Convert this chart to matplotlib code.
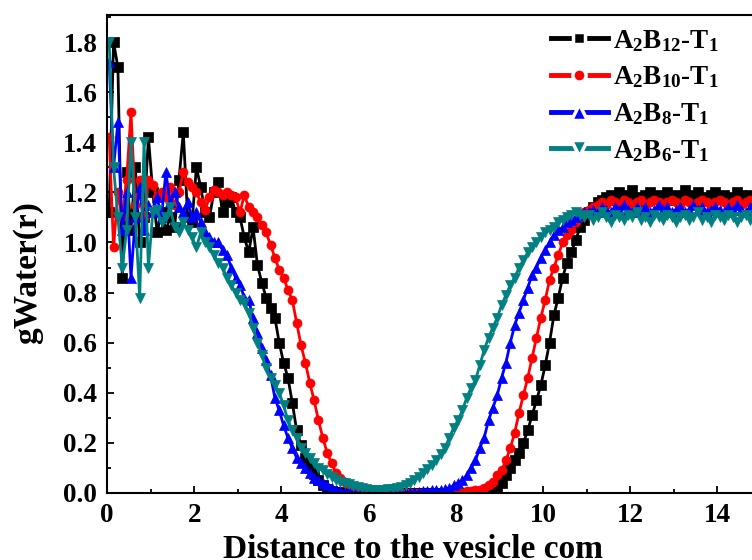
import numpy as np
import matplotlib
matplotlib.use("Agg")
import matplotlib.pyplot as plt
from matplotlib.ticker import MultipleLocator

plt.rcParams['font.family'] = ['Liberation Serif', 'DejaVu Serif']
plt.rcParams['font.weight'] = 'bold'
plt.rcParams['mathtext.fontset'] = 'custom'
plt.rcParams['mathtext.rm'] = 'Liberation Serif:bold'
plt.rcParams['mathtext.bf'] = 'Liberation Serif:bold'
plt.rcParams['mathtext.it'] = 'Liberation Serif:bold'
plt.rcParams['mathtext.default'] = 'bf'

# distance grid (sampling step 0.1)
distance = np.round(0.05 + 0.1 * np.arange(150), 2)

labels = ['A$_2$B$_{12}$-T$_1$', 'A$_2$B$_{10}$-T$_1$', 'A$_2$B$_8$-T$_1$', 'A$_2$B$_6$-T$_1$']

g_b12 = [1.12, 1.80, 1.70, 0.86, 1.28, 1.05, 1.30, 1.00, 1.10, 1.42,
         1.20, 1.04, 1.12, 1.05, 1.10, 1.06, 1.25, 1.44, 1.10, 1.08,
         1.30, 1.22, 1.12, 1.10, 1.20, 1.24, 1.12, 1.16, 1.18, 1.12,
         1.10, 1.02, 0.96, 1.06, 0.91, 0.84, 0.78, 0.74, 0.70, 0.60,
         0.52, 0.46, 0.36, 0.25, 0.19, 0.14, 0.10, 0.075, 0.05, 0.03,
         0.015, 0.008, 0.004, 0.002, 0.001, 0.0, 0.0, 0.0, 0.0, 0.0,
         0.0, 0.0, 0.0, 0.0, 0.0, 0.0, 0.0, 0.0, 0.0, 0.0,
         0.0, 0.0, 0.0, 0.0, 0.0, 0.0, 0.0, 0.0, 0.0, 0.0,
         0.0, 0.0, 0.0, 0.0, 0.0, 0.0, 0.001, 0.002, 0.005, 0.02,
         0.04, 0.07, 0.10, 0.13, 0.16, 0.20, 0.25, 0.31, 0.37, 0.43,
         0.51, 0.60, 0.71, 0.78, 0.86, 0.92, 0.96, 1.01, 1.06, 1.09,
         1.12, 1.14, 1.16, 1.17, 1.18, 1.19, 1.17, 1.20, 1.18, 1.19,
         1.21, 1.18, 1.17, 1.19, 1.20, 1.18, 1.19, 1.18, 1.20, 1.17,
         1.19, 1.18, 1.21, 1.19, 1.18, 1.20, 1.18, 1.17, 1.19, 1.20,
         1.18, 1.19, 1.17, 1.18, 1.20, 1.19, 1.18, 1.19, 1.17, 1.18]

g_b10 = [1.42, 0.98, 1.20, 1.10, 1.25, 1.52, 1.15, 1.25, 1.10, 1.25,
         1.23, 1.18, 1.20, 1.18, 1.22, 1.15, 1.20, 1.28, 1.24, 1.22,
         1.20, 1.16, 1.13, 1.18, 1.21, 1.20, 1.19, 1.20, 1.19, 1.18,
         1.12, 1.19, 1.14, 1.12, 1.10, 1.07, 1.04, 0.99, 0.94, 0.89,
         0.86, 0.81, 0.77, 0.68, 0.59, 0.52, 0.44, 0.37, 0.29, 0.22,
         0.16, 0.12, 0.08, 0.06, 0.045, 0.035, 0.025, 0.018, 0.012, 0.008,
         0.005, 0.003, 0.002, 0.001, 0.0, 0.0, 0.0, 0.0, 0.0, 0.0,
         0.0, 0.0, 0.0, 0.0, 0.0, 0.0, 0.0, 0.001, 0.001, 0.002,
         0.002, 0.004, 0.006, 0.008, 0.01, 0.012, 0.018, 0.03, 0.045, 0.07,
         0.09, 0.13, 0.18, 0.24, 0.32, 0.39, 0.46, 0.54, 0.62, 0.70,
         0.77, 0.85, 0.90, 0.95, 1.00, 1.03, 1.05, 1.08, 1.10, 1.12,
         1.13, 1.14, 1.15, 1.16, 1.15, 1.17, 1.16, 1.15, 1.17, 1.16,
         1.15, 1.16, 1.17, 1.15, 1.16, 1.17, 1.16, 1.15, 1.16, 1.17,
         1.16, 1.15, 1.17, 1.16, 1.15, 1.16, 1.17, 1.16, 1.15, 1.16,
         1.17, 1.16, 1.15, 1.16, 1.17, 1.15, 1.16, 1.17, 1.16, 1.15]

g_b8 = [1.72, 1.30, 1.48, 1.05, 1.20, 0.86, 1.10, 1.22, 1.05, 1.15,
        1.12, 1.18, 1.10, 1.28, 1.16, 1.20, 1.14, 1.12, 1.16, 1.10,
        1.12, 1.08, 1.04, 1.02, 1.00, 1.00, 0.97, 0.95, 0.90, 0.86,
        0.83, 0.78, 0.77, 0.70, 0.64, 0.58, 0.53, 0.47, 0.38, 0.33,
        0.27, 0.22, 0.18, 0.14, 0.12, 0.10, 0.08, 0.06, 0.05, 0.04,
        0.03, 0.02, 0.012, 0.008, 0.005, 0.003, 0.002, 0.001, 0.0, 0.0,
        0.0, 0.0, 0.0, 0.0, 0.0, 0.0, 0.0, 0.0, 0.0, 0.001,
        0.002, 0.004, 0.006, 0.008, 0.01, 0.01, 0.012, 0.015, 0.02, 0.03,
        0.04, 0.05, 0.07, 0.10, 0.13, 0.18, 0.22, 0.29, 0.34, 0.39,
        0.46, 0.52, 0.60, 0.67, 0.72, 0.77, 0.82, 0.87, 0.90, 0.94,
        0.97, 1.00, 1.03, 1.05, 1.06, 1.08, 1.09, 1.10, 1.11, 1.12,
        1.12, 1.13, 1.12, 1.14, 1.13, 1.12, 1.14, 1.13, 1.15, 1.13,
        1.12, 1.14, 1.13, 1.14, 1.12, 1.13, 1.15, 1.13, 1.14, 1.12,
        1.13, 1.14, 1.12, 1.13, 1.15, 1.13, 1.14, 1.12, 1.13, 1.14,
        1.13, 1.12, 1.14, 1.13, 1.15, 1.13, 1.12, 1.14, 1.13, 1.14]

g_b6 = [1.80, 1.30, 1.10, 0.90, 1.05, 1.40, 1.10, 0.78, 1.40, 0.90,
        1.12, 1.13, 1.08, 1.10, 1.14, 1.06, 1.04, 1.08, 1.05, 1.02,
        0.98, 1.04, 1.00, 0.98, 0.95, 0.92, 0.90, 0.86, 0.83, 0.80,
        0.77, 0.76, 0.72, 0.66, 0.60, 0.55, 0.50, 0.46, 0.43, 0.40,
        0.35, 0.29, 0.25, 0.22, 0.18, 0.16, 0.14, 0.12, 0.10, 0.09,
        0.075, 0.062, 0.05, 0.045, 0.04, 0.035, 0.028, 0.022, 0.018, 0.015,
        0.012, 0.01, 0.01, 0.012, 0.014, 0.017, 0.02, 0.025, 0.03, 0.04,
        0.05, 0.065, 0.08, 0.095, 0.11, 0.13, 0.155, 0.18, 0.22, 0.26,
        0.29, 0.33, 0.38, 0.42, 0.45, 0.51, 0.57, 0.62, 0.66, 0.70,
        0.75, 0.79, 0.83, 0.86, 0.90, 0.93, 0.96, 0.98, 1.00, 1.02,
        1.04, 1.05, 1.06, 1.08, 1.09, 1.10, 1.11, 1.12, 1.11, 1.10,
        1.11, 1.09, 1.10, 1.12, 1.10, 1.08, 1.11, 1.10, 1.09, 1.11,
        1.10, 1.12, 1.09, 1.10, 1.08, 1.11, 1.10, 1.09, 1.11, 1.10,
        1.08, 1.10, 1.11, 1.09, 1.10, 1.12, 1.09, 1.10, 1.08, 1.11,
        1.10, 1.09, 1.11, 1.10, 1.08, 1.10, 1.11, 1.09, 1.10, 1.10]

series = [g_b12, g_b10, g_b8, g_b6]
colors = ['#000000', '#FF0000', '#0000FF', '#008080']
markers = ['s', 'o', '^', 'v']
legend_marker_sizes = [9.0, 9.5, 12.0, 12.0]

fig = plt.figure(figsize=(7.52, 5.6), dpi=100)
ax = fig.add_axes([107/752, 67/560, 654/752, 478/560])

handles = []
for y, c, m, lab in zip(series, colors, markers, labels):
    h, = ax.plot(distance, y, color=c, marker=m, markersize=6.5, linewidth=2.0,
                 markeredgewidth=0.5, markeredgecolor=c, label=lab)
    handles.append(h)

ax.set_xlim(0, 15)
ax.set_ylim(0, 1.908)
ax.xaxis.set_major_locator(MultipleLocator(2))
ax.xaxis.set_minor_locator(MultipleLocator(1))
ax.yaxis.set_major_locator(MultipleLocator(0.2))
ax.yaxis.set_minor_locator(MultipleLocator(0.1))
ax.yaxis.set_major_formatter(matplotlib.ticker.FormatStrFormatter('%.1f'))
ax.tick_params(which='both', direction='in', width=1.3, labelsize=19.5, top=False, right=False)
ax.tick_params(which='major', length=5, pad=7)
ax.tick_params(which='minor', length=3)
for lab in ax.get_xticklabels() + ax.get_yticklabels():
    lab.set_fontweight('bold')
for s in ['left', 'bottom', 'top', 'right']:
    ax.spines[s].set_linewidth(1.5)

ax.set_xlabel('Distance to the vesicle com', fontsize=24, fontweight='bold')
ax.set_ylabel('gWater(r)', fontsize=24, fontweight='bold')
ax.xaxis.set_label_coords(0.468, -0.086)
ax.yaxis.set_label_coords(-0.098, 0.462)

leg = fig.legend(handles=handles, loc='upper left', bbox_to_anchor=(540/752, 1 - 17/560),
                 frameon=False, fontsize=19.5, handlelength=2.1, handletextpad=0.2,
                 labelspacing=0.4, borderaxespad=0)
for h, ms in zip(leg.legend_handles, legend_marker_sizes):
    h.set_linewidth(3.5)
    h.set_markersize(ms)
    h.set_markeredgecolor('white')
    h.set_markeredgewidth(2.5)

fig.savefig('out.png', dpi=100)
